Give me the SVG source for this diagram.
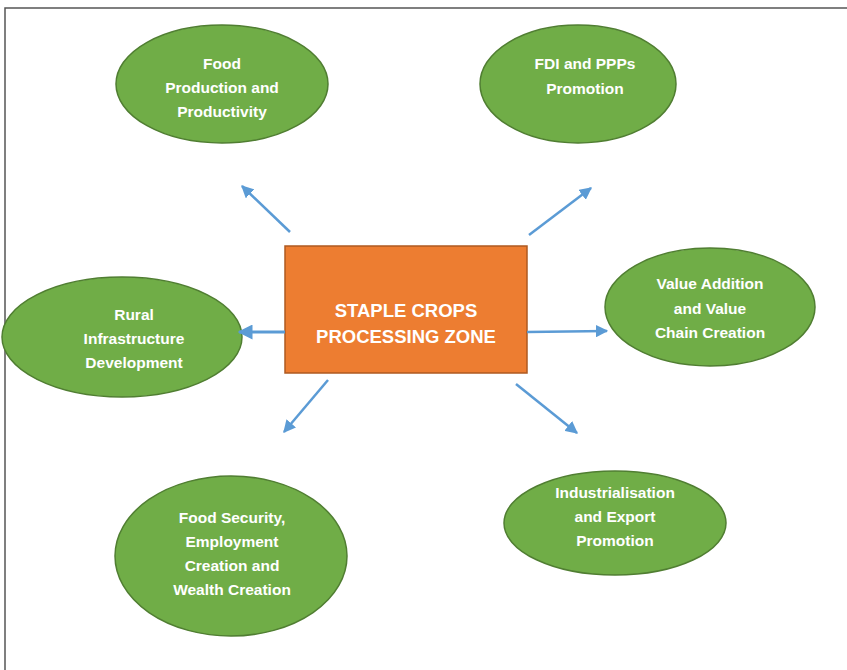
<svg xmlns="http://www.w3.org/2000/svg" width="847" height="670" viewBox="0 0 847 670">
<style>
.node ellipse{fill:#70AD47;stroke:#507E32;stroke-width:1.5}
.node text{fill:#fff;font-family:"Liberation Sans",Arial,sans-serif;font-weight:bold;font-size:15.5px;text-anchor:middle}
#center rect{fill:#ED7D31;stroke:#AE5A21;stroke-width:1.5}
#center text{font-size:18.5px}
.conn line{stroke:#5B9BD5;stroke-width:2.5;marker-end:url(#ah)}
</style>
<defs>
<marker id="ah" viewBox="0 0 10 10" refX="9" refY="5" markerWidth="5" markerHeight="5" orient="auto" markerUnits="strokeWidth">
<path d="M0,0 L10,5 L0,10 Z" fill="#5B9BD5"/>
</marker>
</defs>
<rect x="0" y="0" width="847" height="670" fill="#fff"/>
<path d="M5,670 V8 H847" fill="none" stroke="#555" stroke-width="1.5"/>
<g id="n-food-production" class="node">
<ellipse cx="222" cy="84" rx="106" ry="59"/>
<text x="222" y="69">Food</text>
<text x="222" y="93">Production and</text>
<text x="222" y="117">Productivity</text>
</g>
<g id="n-fdi" class="node">
<ellipse cx="578" cy="84" rx="98" ry="59"/>
<text x="585" y="69">FDI and PPPs</text>
<text x="585" y="94">Promotion</text>
</g>
<g id="n-rural" class="node">
<ellipse cx="122" cy="337" rx="120" ry="60"/>
<text x="134" y="320">Rural</text>
<text x="134" y="344">Infrastructure</text>
<text x="134" y="368">Development</text>
</g>
<g id="n-value" class="node">
<ellipse cx="710" cy="307" rx="105" ry="59"/>
<text x="710" y="289">Value Addition</text>
<text x="710" y="314">and Value</text>
<text x="710" y="338">Chain Creation</text>
</g>
<g id="n-food-security" class="node">
<ellipse cx="231" cy="556" rx="116" ry="80"/>
<text x="232" y="523">Food Security,</text>
<text x="232" y="547">Employment</text>
<text x="232" y="571">Creation and</text>
<text x="232" y="595">Wealth Creation</text>
</g>
<g id="n-industrialisation" class="node">
<ellipse cx="615" cy="523" rx="111" ry="52"/>
<text x="615" y="498">Industrialisation</text>
<text x="615" y="522">and Export</text>
<text x="615" y="546">Promotion</text>
</g>
<g id="center" class="node">
<rect x="285" y="246" width="242" height="127"/>
<text x="406" y="317">STAPLE CROPS</text>
<text x="406" y="343">PROCESSING ZONE</text>
</g>
<g id="connectors" class="conn">
<line x1="290" y1="232" x2="242" y2="186"/>
<line x1="529" y1="235" x2="591" y2="188"/>
<line x1="285" y1="332" x2="239" y2="332" style="stroke-width:3"/>
<line x1="527" y1="332" x2="607" y2="331"/>
<line x1="328" y1="380" x2="284" y2="432"/>
<line x1="516" y1="384" x2="577" y2="433"/>
</g>
</svg>
